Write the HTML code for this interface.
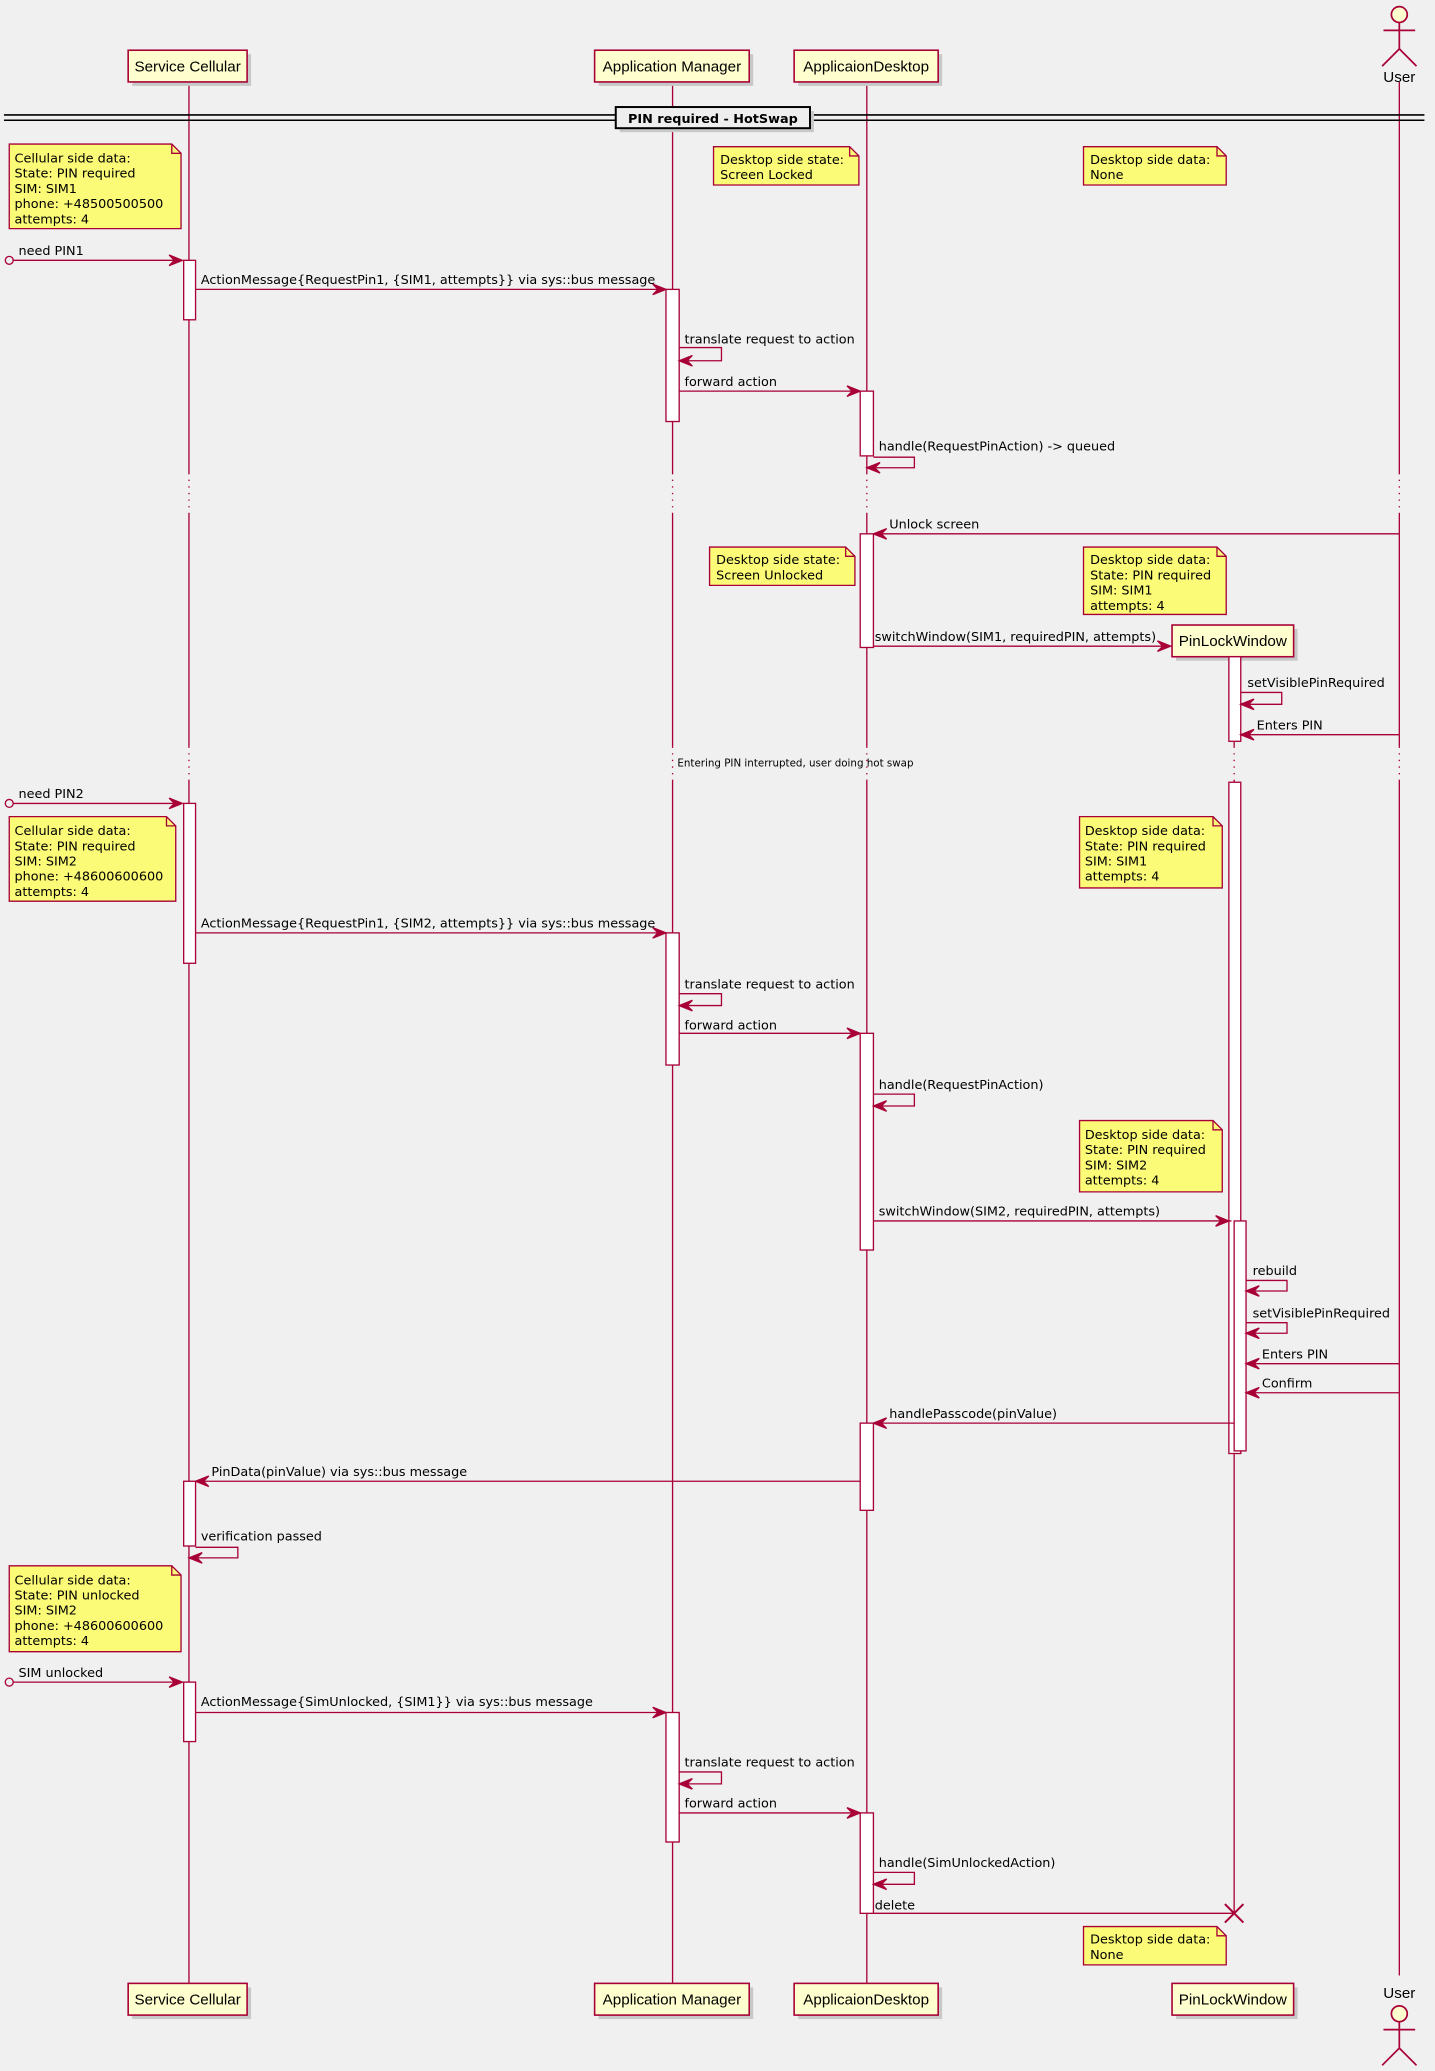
<!DOCTYPE html>
<html><head><meta charset="utf-8"><style>
html,body{margin:0;padding:0;background:#f0f0f0;}
svg{display:block}
text{font-family:"DejaVu Sans","Liberation Sans",sans-serif;font-size:9.7px;fill:#000}
.ll{stroke:#A80036;stroke-width:1;fill:none}
.m{stroke:#A80036;stroke-width:1;fill:none}
.ah{fill:#A80036;stroke:#A80036}
.box{fill:#FEFECE;stroke:#A80036;stroke-width:1.2}
.sh{fill:#c8c8c8}
.act{fill:#fff;stroke:#A80036;stroke-width:1}
.note{fill:#FBFB77;stroke:#A80036;stroke-width:1}
.pt{font-family:"Liberation Sans",sans-serif;font-size:11.5px}
.dl{stroke:#A80036;stroke-dasharray:1,4;fill:none}
</style></head><body>
<svg width="1435" height="2071" viewBox="0 0 1086 1567.3" xmlns="http://www.w3.org/2000/svg">
<rect width="1086" height="1568" fill="#f0f0f0"/>
<g class="ll">
<line x1="143" y1="62" x2="143" y2="358"/><line x1="143" y1="388" x2="143" y2="565"/><line x1="143" y1="590" x2="143" y2="1501"/>
<line x1="509" y1="62" x2="509" y2="358"/><line x1="509" y1="388" x2="509" y2="565"/><line x1="509" y1="590" x2="509" y2="1501"/>
<line x1="656" y1="62" x2="656" y2="358"/><line x1="656" y1="388" x2="656" y2="565"/><line x1="656" y1="590" x2="656" y2="1501"/>
<line x1="934" y1="497" x2="934" y2="565"/><line x1="934" y1="590" x2="934" y2="1448"/>
<line x1="1059" y1="62" x2="1059" y2="358"/><line x1="1059" y1="388" x2="1059" y2="565"/><line x1="1059" y1="590" x2="1059" y2="1495"/>
</g>
<g class="dl">
<line x1="143" y1="358" x2="143" y2="388"/><line x1="509" y1="358" x2="509" y2="388"/><line x1="656" y1="358" x2="656" y2="388"/><line x1="1059" y1="358" x2="1059" y2="388"/>
<line x1="143" y1="565" x2="143" y2="590"/><line x1="509" y1="565" x2="509" y2="590"/><line x1="656" y1="565" x2="656" y2="590"/><line x1="934" y1="565" x2="934" y2="590"/><line x1="1059" y1="565" x2="1059" y2="590"/>
</g>
<g>
<rect class="sh" x="100" y="41" width="90" height="24"/><rect class="box" x="97" y="38" width="90" height="24"/><text class="pt" x="142" y="54" text-anchor="middle">Service Cellular</text>
<rect class="sh" x="453" y="41" width="117" height="24"/><rect class="box" x="450" y="38" width="117" height="24"/><text class="pt" x="508.5" y="54" text-anchor="middle">Application Manager</text>
<rect class="sh" x="604" y="41" width="109" height="24"/><rect class="box" x="601" y="38" width="109" height="24"/><text class="pt" x="655.5" y="54" text-anchor="middle">ApplicaionDesktop</text>
<rect class="sh" x="890" y="476" width="92" height="24"/><rect class="box" x="887" y="473" width="92" height="24"/><text class="pt" x="933" y="489" text-anchor="middle">PinLockWindow</text>
<rect class="sh" x="100" y="1504" width="90" height="24"/><rect class="box" x="97" y="1501" width="90" height="24"/><text class="pt" x="142" y="1517" text-anchor="middle">Service Cellular</text>
<rect class="sh" x="453" y="1504" width="117" height="24"/><rect class="box" x="450" y="1501" width="117" height="24"/><text class="pt" x="508.5" y="1517" text-anchor="middle">Application Manager</text>
<rect class="sh" x="604" y="1504" width="109" height="24"/><rect class="box" x="601" y="1501" width="109" height="24"/><text class="pt" x="655.5" y="1517" text-anchor="middle">ApplicaionDesktop</text>
<rect class="sh" x="890" y="1504" width="92" height="24"/><rect class="box" x="887" y="1501" width="92" height="24"/><text class="pt" x="933" y="1517" text-anchor="middle">PinLockWindow</text>
</g>
<g stroke="#A80036" stroke-width="1.3" fill="#FEFECE">
<circle cx="1059" cy="11" r="6"/><line x1="1059" y1="17" x2="1059" y2="37"/><line x1="1047" y1="23" x2="1071" y2="23"/><line x1="1059" y1="37" x2="1046" y2="50"/><line x1="1059" y1="37" x2="1072" y2="50"/>
<circle cx="1059" cy="1524" r="6"/><line x1="1059" y1="1530" x2="1059" y2="1550"/><line x1="1047" y1="1536" x2="1071" y2="1536"/><line x1="1059" y1="1550" x2="1046" y2="1563"/><line x1="1059" y1="1550" x2="1072" y2="1563"/>
</g>
<text class="pt" x="1059" y="62" text-anchor="middle">User</text>
<text class="pt" x="1059" y="1512" text-anchor="middle">User</text>
<line x1="3" y1="87" x2="1078" y2="87" stroke="#000" stroke-width="1.2"/>
<line x1="3" y1="91" x2="1078" y2="91" stroke="#000" stroke-width="1.2"/>
<rect x="469" y="84" width="147" height="16" fill="#c8c8c8"/>
<rect x="466" y="81" width="147" height="16" fill="#eeeeee" stroke="#000" stroke-width="1.5"/>
<text x="539.5" y="93" text-anchor="middle" style="font-weight:bold">PIN required - HotSwap</text>
<g class="act">
<rect x="139" y="197" width="9" height="45"/>
<rect x="504" y="219" width="10" height="100"/>
<rect x="651" y="296" width="10" height="49"/>
<rect x="651" y="404" width="10" height="86"/>
<rect x="930" y="497" width="9" height="64"/>
<rect x="930" y="592" width="9" height="508"/>
<rect x="934" y="924" width="9" height="174"/>
<rect x="139" y="608" width="9" height="121"/>
<rect x="504" y="706" width="10" height="100"/>
<rect x="651" y="782" width="10" height="164"/>
<rect x="651" y="1077" width="10" height="66"/>
<rect x="139" y="1121" width="9" height="49"/>
<rect x="139" y="1273" width="9" height="45"/>
<rect x="504" y="1296" width="10" height="98"/>
<rect x="651" y="1372" width="10" height="76"/>
</g>
<g>
<path class="note" d="M7 109 H130 L137 116 V173 H7 Z"/><path class="m" d="M130 109 V116 H137"/>
<text x="11" y="123">Cellular side data:</text><text x="11" y="134.5">State: PIN required</text><text x="11" y="146">SIM: SIM1</text><text x="11" y="157.5">phone: +48500500500</text><text x="11" y="169">attempts: 4</text>
<path class="note" d="M540 111 H643 L650 118 V140 H540 Z"/><path class="m" d="M643 111 V118 H650"/>
<text x="545" y="124">Desktop side state:</text><text x="545" y="135.5">Screen Locked</text>
<path class="note" d="M820 111 H921 L928 118 V140 H820 Z"/><path class="m" d="M921 111 V118 H928"/>
<text x="825" y="124">Desktop side data:</text><text x="825" y="135.5">None</text>
<path class="note" d="M537 414 H640 L647 421 V443 H537 Z"/><path class="m" d="M640 414 V421 H647"/>
<text x="542" y="427">Desktop side state:</text><text x="542" y="438.5">Screen Unlocked</text>
<path class="note" d="M820 414 H921 L928 421 V465 H820 Z"/><path class="m" d="M921 414 V421 H928"/>
<text x="825" y="427">Desktop side data:</text><text x="825" y="438.5">State: PIN required</text><text x="825" y="450">SIM: SIM1</text><text x="825" y="461.5">attempts: 4</text>
<path class="note" d="M7 618 H126 L133 625 V682 H7 Z"/><path class="m" d="M126 618 V625 H133"/>
<text x="11" y="632">Cellular side data:</text><text x="11" y="643.5">State: PIN required</text><text x="11" y="655">SIM: SIM2</text><text x="11" y="666.5">phone: +48600600600</text><text x="11" y="678">attempts: 4</text>
<path class="note" d="M817 618 H918 L925 625 V672 H817 Z"/><path class="m" d="M918 618 V625 H925"/>
<text x="821" y="632">Desktop side data:</text><text x="821" y="643.5">State: PIN required</text><text x="821" y="655">SIM: SIM1</text><text x="821" y="666.5">attempts: 4</text>
<path class="note" d="M817 848 H918 L925 855 V902 H817 Z"/><path class="m" d="M918 848 V855 H925"/>
<text x="821" y="862">Desktop side data:</text><text x="821" y="873.5">State: PIN required</text><text x="821" y="885">SIM: SIM2</text><text x="821" y="896.5">attempts: 4</text>
<path class="note" d="M7 1185 H130 L137 1192 V1250 H7 Z"/><path class="m" d="M130 1185 V1192 H137"/>
<text x="11" y="1199">Cellular side data:</text><text x="11" y="1210.5">State: PIN unlocked</text><text x="11" y="1222">SIM: SIM2</text><text x="11" y="1233.5">phone: +48600600600</text><text x="11" y="1245">attempts: 4</text>
<path class="note" d="M820 1458 H921 L928 1465 V1487 H820 Z"/><path class="m" d="M921 1458 V1465 H928"/>
<text x="825" y="1471">Desktop side data:</text><text x="825" y="1482.5">None</text>
</g>
<g class="m">
<circle cx="7" cy="197" r="3"/><line x1="10" y1="197" x2="137" y2="197"/>
<line x1="148" y1="219" x2="503" y2="219"/>
<path d="M514 263 H546 V273 H515"/>
<line x1="514" y1="296" x2="650" y2="296"/>
<path d="M661 346 H692 V354 H658"/>
<line x1="1059" y1="404" x2="662" y2="404"/>
<line x1="661" y1="489" x2="885" y2="489"/>
<path d="M939 524 H970 V533 H940"/>
<line x1="1059" y1="556" x2="940" y2="556"/>
<circle cx="7" cy="608" r="3"/><line x1="10" y1="608" x2="137" y2="608"/>
<line x1="148" y1="706" x2="503" y2="706"/>
<path d="M514 752 H546 V761 H515"/>
<line x1="514" y1="782" x2="650" y2="782"/>
<path d="M661 828 H692 V837 H662"/>
<line x1="661" y1="924" x2="932" y2="924"/>
<path d="M943 969 H974 V977 H944"/>
<path d="M943 1001 H974 V1009 H944"/>
<line x1="1059" y1="1032" x2="944" y2="1032"/>
<line x1="1059" y1="1054" x2="944" y2="1054"/>
<line x1="934" y1="1077" x2="662" y2="1077"/>
<line x1="651" y1="1121" x2="149" y2="1121"/>
<path d="M148 1171 H180 V1179 H144"/>
<circle cx="7" cy="1273" r="3"/><line x1="10" y1="1273" x2="137" y2="1273"/>
<line x1="148" y1="1296" x2="503" y2="1296"/>
<path d="M514 1341 H546 V1350 H515"/>
<line x1="514" y1="1372" x2="650" y2="1372"/>
<path d="M661 1417 H692 V1426 H662"/>
<line x1="661" y1="1448" x2="934" y2="1448"/>
<line x1="927" y1="1441" x2="941" y2="1455" stroke-width="1.5"/><line x1="941" y1="1441" x2="927" y2="1455" stroke-width="1.5"/>
</g>
<g class="ah">
<polygon points="128,193 138,197 128,201 132,197"/>
<polygon points="494,215 504,219 494,223 498,219"/>
<polygon points="641,292 651,296 641,300 645,296"/>
<polygon points="876,485 886,489 876,493 880,489"/>
<polygon points="128,604 138,608 128,612 132,608"/>
<polygon points="494,702 504,706 494,710 498,706"/>
<polygon points="641,778 651,782 641,786 645,782"/>
<polygon points="920,920 930,924 920,928 924,924"/>
<polygon points="128,1269 138,1273 128,1277 132,1273"/>
<polygon points="494,1292 504,1296 494,1300 498,1296"/>
<polygon points="641,1368 651,1372 641,1376 645,1372"/>
<polygon points="524,269 514,273 524,277 520,273"/>
<polygon points="666,350 656,354 666,358 662,354"/>
<polygon points="671,400 661,404 671,408 667,404"/>
<polygon points="949,529 939,533 949,537 945,533"/>
<polygon points="949,552 939,556 949,560 945,556"/>
<polygon points="524,757 514,761 524,765 520,761"/>
<polygon points="671,833 661,837 671,841 667,837"/>
<polygon points="953,973 943,977 953,981 949,977"/>
<polygon points="953,1005 943,1009 953,1013 949,1009"/>
<polygon points="953,1028 943,1032 953,1036 949,1032"/>
<polygon points="953,1050 943,1054 953,1058 949,1054"/>
<polygon points="671,1073 661,1077 671,1081 667,1077"/>
<polygon points="158,1117 148,1121 158,1125 154,1121"/>
<polygon points="153,1175 143,1179 153,1183 149,1179"/>
<polygon points="524,1346 514,1350 524,1354 520,1350"/>
<polygon points="671,1422 661,1426 671,1430 667,1426"/>
</g>
<g>
<text x="14" y="193">need PIN1</text>
<text x="152" y="215">ActionMessage{RequestPin1, {SIM1, attempts}} via sys::bus message</text>
<text x="518" y="260">translate request to action</text>
<text x="518" y="292">forward action</text>
<text x="665" y="341">handle(RequestPinAction) -&gt; queued</text>
<text x="673" y="400">Unlock screen</text>
<text x="662" y="485">switchWindow(SIM1, requiredPIN, attempts)</text>
<text x="944" y="520">setVisiblePinRequired</text>
<text x="951" y="552">Enters PIN</text>
<text x="602" y="580" text-anchor="middle" style="font-size:7.8px">Entering PIN interrupted, user doing hot swap</text>
<text x="14" y="604">need PIN2</text>
<text x="152" y="702">ActionMessage{RequestPin1, {SIM2, attempts}} via sys::bus message</text>
<text x="518" y="748">translate request to action</text>
<text x="518" y="779">forward action</text>
<text x="665" y="824">handle(RequestPinAction)</text>
<text x="665" y="920">switchWindow(SIM2, requiredPIN, attempts)</text>
<text x="948" y="965">rebuild</text>
<text x="948" y="997">setVisiblePinRequired</text>
<text x="955" y="1028">Enters PIN</text>
<text x="955" y="1050">Confirm</text>
<text x="673" y="1073">handlePasscode(pinValue)</text>
<text x="160" y="1117">PinData(pinValue) via sys::bus message</text>
<text x="152" y="1166">verification passed</text>
<text x="14" y="1269">SIM unlocked</text>
<text x="152" y="1291">ActionMessage{SimUnlocked, {SIM1}} via sys::bus message</text>
<text x="518" y="1337">translate request to action</text>
<text x="518" y="1368">forward action</text>
<text x="665" y="1413">handle(SimUnlockedAction)</text>
<text x="662" y="1445">delete</text>
</g>
</svg>
</body></html>
